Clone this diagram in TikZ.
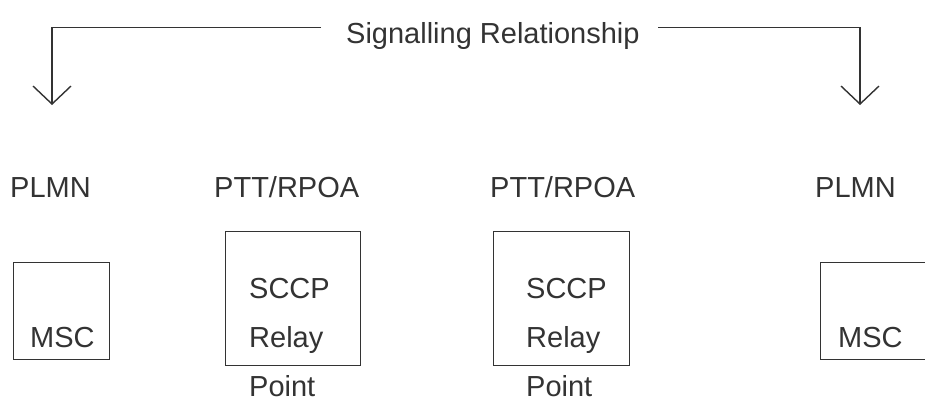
\documentclass[tikz,border=0pt]{standalone}
\usepackage{fontspec}
\setmainfont{Liberation Sans}
\usetikzlibrary{arrows.meta}
\definecolor{ink}{HTML}{333333}
\begin{document}
\begin{tikzpicture}[x=1pt,y=-1pt,
  lbl/.style={anchor=base west,inner sep=0pt,text=ink,font=\fontsize{29}{34}\selectfont},
  boxnode/.style={draw=ink,line width=1.4pt,inner sep=0pt,anchor=north west},
  conn/.style={draw=ink,line width=1.4pt},
  arr/.style={conn,-{Straight Barb[length=18pt,width=38pt,line width=1.4pt]}}]
\useasboundingbox (0,0) rectangle (925,397);
% title
\node[lbl] (sig) at (346,43) {Signalling Relationship};
\coordinate (ls) at (321,27.5);
\coordinate (lc) at (52,27.5);
\coordinate (lt) at (52,105);
\coordinate (rs) at (658,27.5);
\coordinate (rc) at (860,27.5);
\coordinate (rt) at (860,105);
\draw[arr] (ls) -- (lc) -- (lt);
\draw[arr] (rs) -- (rc) -- (rt);
% top labels
\node[lbl] (plmn1) at (10,197) {PLMN};
\node[lbl] (ptt1) at (214,197) {PTT/RPOA};
\node[lbl] (ptt2) at (490,197) {PTT/RPOA};
\node[lbl] (plmn2) at (815,197) {PLMN};
% boxes
\node[boxnode,minimum width=96pt,minimum height=97pt] (msc1box) at (13,262) {};
\node[boxnode,minimum width=135pt,minimum height=134pt] (sccp1box) at (225,231) {};
\node[boxnode,minimum width=136pt,minimum height=134pt] (sccp2box) at (493,231) {};
\node[boxnode,minimum width=120pt,minimum height=97pt] (msc2box) at (820,262) {};
% box texts
\node[lbl] (msc1) at (30,347) {MSC};
\node[lbl] (sccp1) at (249,298) {SCCP};
\node[lbl] (relay1) at (249,347) {Relay};
\node[lbl] (point1) at (249,396) {Point};
\node[lbl] (sccp2) at (526,298) {SCCP};
\node[lbl] (relay2) at (526,347) {Relay};
\node[lbl] (point2) at (526,396) {Point};
\node[lbl] (msc2) at (838,347) {MSC};
\end{tikzpicture}
\end{document}
